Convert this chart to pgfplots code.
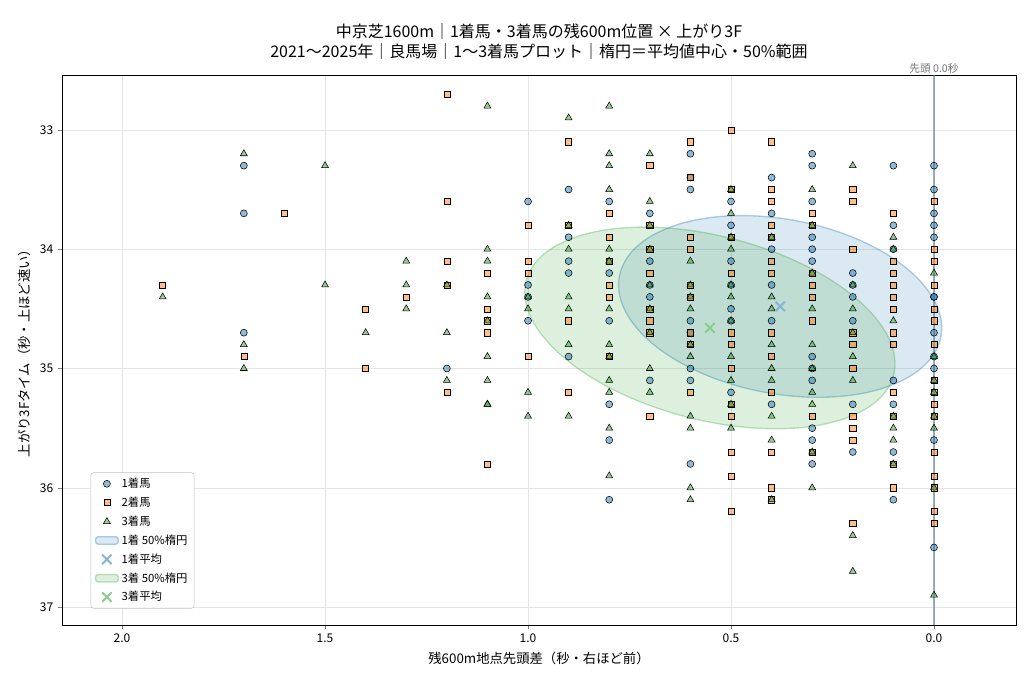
\documentclass[border=0pt]{standalone}
\usepackage{pgfplots}
\pgfplotsset{compat=1.18}
\usepackage{fontspec}
\setmainfont{Noto Sans CJK JP}
\definecolor{cb}{RGB}{31,119,180}
\definecolor{co}{RGB}{255,127,14}
\definecolor{cg}{RGB}{44,160,44}
\begin{document}
\begin{tikzpicture}
\useasboundingbox (0,0) rectangle (768pt,513pt);
\begin{axis}[at={(46.5pt,44.25pt)},anchor=south west,scale only axis,
 width=715.5pt,height=412.5pt,
 x dir=reverse, y dir=reverse,
 xmin=-0.202,xmax=2.148,ymin=32.54,ymax=37.15,
 xtick={0,0.5,1,1.5,2}, ytick={33,34,35,36,37},
 xticklabel style={/pgf/number format/.cd,fixed,fixed zerofill,precision=1},
 /pgf/number format/assume math mode=true,
 tick label style={font=\fontsize{9}{10}\selectfont},
 grid=major, major grid style={gray!20},
 tick align=outside, major tick length=3pt, tick pos=left,
 xlabel={残600m地点先頭差（秒・右ほど前）}, ylabel={上がり3Fタイム（秒・上ほど速い）},
 label style={font=\fontsize{10}{12}\selectfont},
 title={中京芝1600m｜1着馬・3着馬の残600m位置 × 上がり3F\\2021〜2025年｜良馬場｜1〜3着馬プロット｜楕円＝平均値中心・50\%範囲},
 title style={font=\fontsize{12}{15}\selectfont, align=center, yshift=2pt},
 legend pos=south west,
 legend style={font=\fontsize{8.5}{10}\selectfont, draw=gray!50, rounded corners=2pt, cells={anchor=west}, row sep=1.5pt},
 clip=false]
\addplot[only marks, mark=*, mark size=2.6pt, mark options={draw=none, fill=cb, fill opacity=0.5}] coordinates {
(0.9,33.5)(0.9,33.9)(0.9,34.1)(0.9,34.2)(0.9,34.9)
(0.8,33.6)(0.8,34.2)(0.8,34.6)(0.8,35.3)(0.8,35.6)(0.8,36.1)
(0.7,33.7)(0.7,34.1)(0.7,34.3)(0.7,34.4)(0.7,35.1)
(0.6,33.2)(0.6,33.4)(0.6,33.5)(0.6,34.6)(0.6,34.7)(0.6,35.0)(0.6,35.1)(0.6,35.8)
(0.5,33.6)(0.5,33.8)(0.5,34.1)(0.5,34.3)(0.5,34.5)(0.5,34.6)(0.5,35.2)
(0.4,33.4)(0.4,33.7)(0.4,34.0)(0.4,34.3)(0.4,34.6)(0.4,35.3)
(0.3,33.2)(0.3,33.3)(0.3,33.6)(0.3,33.9)(0.3,34.0)(0.3,34.1)(0.3,34.9)(0.3,35.0)(0.3,35.1)(0.3,35.5)(0.3,35.6)(0.3,35.8)
(0.2,34.2)(0.2,34.3)(0.2,34.4)(0.2,34.6)(0.2,35.3)(0.2,35.7)
(0.1,33.3)(0.1,33.8)(0.1,34.0)(0.1,35.1)(0.1,35.3)(0.1,35.7)(0.1,36.1)
(0,33.3)(0,33.5)(0,33.7)(0,33.8)(0,33.9)(0,34.4)(0,34.4)(0,34.7)(0,34.9)(0,35.0)(0,35.6)(0,36.5)
(1.7,33.3)(1.7,33.7)(1.7,34.7)(1.2,35.0)(1.0,33.6)(1.0,34.3)(1.0,34.4)(1.0,34.6)
};
\addlegendentry{1着馬}
\addplot[only marks, mark=square*, mark size=2.3pt, mark options={draw=none, fill=co, fill opacity=0.5}] coordinates {
(0.9,33.1)(0.9,33.8)(0.9,34.6)(0.9,35.2)
(0.8,33.7)(0.8,33.9)(0.8,34.1)(0.8,34.3)(0.8,34.4)(0.8,34.9)
(0.7,33.3)(0.7,33.8)(0.7,34.0)(0.7,34.2)(0.7,34.5)(0.7,34.6)(0.7,34.7)(0.7,35.4)
(0.6,33.1)(0.6,33.4)(0.6,33.9)(0.6,34.0)(0.6,34.3)(0.6,34.4)(0.6,34.7)(0.6,34.8)(0.6,35.2)
(0.5,33.0)(0.5,33.5)(0.5,33.9)(0.5,34.2)(0.5,34.7)(0.5,34.8)(0.5,35.0)(0.5,35.3)(0.5,35.4)(0.5,35.7)(0.5,35.9)(0.5,36.2)
(0.4,33.1)(0.4,33.5)(0.4,33.6)(0.4,33.8)(0.4,33.9)(0.4,34.1)(0.4,34.2)(0.4,34.7)(0.4,34.9)(0.4,35.2)(0.4,35.7)(0.4,36.0)(0.4,36.1)
(0.3,33.7)(0.3,33.8)(0.3,34.2)(0.3,34.3)(0.3,34.4)(0.3,34.6)(0.3,35.4)(0.3,35.7)
(0.2,33.5)(0.2,33.6)(0.2,34.0)(0.2,34.7)(0.2,34.8)(0.2,35.0)(0.2,35.4)(0.2,35.5)(0.2,35.6)(0.2,36.3)
(0.1,33.7)(0.1,34.1)(0.1,34.2)(0.1,34.3)(0.1,34.4)(0.1,34.5)(0.1,34.7)(0.1,34.8)(0.1,35.2)(0.1,35.4)(0.1,35.8)(0.1,36.0)
(0,33.6)(0,34.0)(0,34.1)(0,34.3)(0,34.5)(0,34.6)(0,34.8)(0,35.1)(0,35.2)(0,35.3)(0,35.4)(0,35.7)(0,35.9)(0,36.0)(0,36.2)(0,36.3)
(1.9,34.3)(1.7,34.9)(1.6,33.7)(1.4,34.5)(1.4,35.0)(1.3,34.4)
(1.2,32.7)(1.2,33.6)(1.2,34.1)(1.2,34.3)(1.2,35.2)
(1.1,34.2)(1.1,34.5)(1.1,34.6)(1.1,34.7)(1.1,35.8)
(1.0,33.8)(1.0,34.1)(1.0,34.2)(1.0,34.9)
};
\addlegendentry{2着馬}
\addplot[only marks, mark=triangle*, mark size=3pt, mark options={draw=none, fill=cg, fill opacity=0.5}] coordinates {
(0.9,32.9)(0.9,33.8)(0.9,34.0)(0.9,34.4)(0.9,34.5)(0.9,34.8)(0.9,35.4)
(0.8,32.8)(0.8,33.2)(0.8,33.3)(0.8,33.5)(0.8,34.0)(0.8,34.1)(0.8,34.5)(0.8,34.8)(0.8,34.9)(0.8,35.1)(0.8,35.2)(0.8,35.5)(0.8,35.9)
(0.7,33.2)(0.7,33.6)(0.7,33.8)(0.7,34.0)(0.7,34.3)(0.7,34.5)(0.7,34.7)(0.7,35.0)(0.7,35.2)
(0.6,34.1)(0.6,34.3)(0.6,34.4)(0.6,34.5)(0.6,34.8)(0.6,34.9)(0.6,35.4)(0.6,35.5)(0.6,36.0)(0.6,36.1)
(0.5,33.5)(0.5,33.7)(0.5,33.9)(0.5,34.0)(0.5,34.3)(0.5,34.4)(0.5,34.6)(0.5,34.9)(0.5,35.1)(0.5,35.3)(0.5,35.5)
(0.4,33.9)(0.4,34.4)(0.4,34.5)(0.4,34.8)(0.4,35.0)(0.4,35.1)(0.4,35.4)(0.4,35.6)(0.4,36.1)
(0.3,33.5)(0.3,33.8)(0.3,34.2)(0.3,34.5)(0.3,34.8)(0.3,35.0)(0.3,35.2)(0.3,35.3)(0.3,35.7)(0.3,36.0)
(0.2,33.3)(0.2,34.3)(0.2,34.5)(0.2,34.7)(0.2,34.9)(0.2,35.1)(0.2,36.4)(0.2,36.7)
(0.1,33.9)(0.1,34.0)(0.1,34.6)(0.1,35.4)(0.1,35.5)(0.1,35.6)(0.1,35.8)
(0,34.2)(0,34.9)(0,35.1)(0,35.2)(0,35.4)(0,35.5)(0,36.0)(0,36.9)
(1.9,34.4)(1.7,33.2)(1.7,34.8)(1.7,35.0)(1.5,33.3)(1.5,34.3)(1.4,34.7)
(1.3,34.1)(1.3,34.3)(1.3,34.5)(1.2,34.3)(1.2,34.7)(1.2,35.1)
(1.1,32.8)(1.1,34.0)(1.1,34.1)(1.1,34.4)(1.1,34.6)(1.1,34.9)(1.1,35.1)(1.1,35.3)(1.1,35.3)
(1.0,34.4)(1.0,34.5)(1.0,35.2)(1.0,35.4)
};
\addlegendentry{3着馬}
\addplot[draw=cb, draw opacity=0.35, fill=cb, fill opacity=0.16, line width=1pt, domain=0:360, samples=120, smooth, area legend]
 ({0.379+0.398*cos(x)},{34.48-0.18*cos(x)+0.74*sin(x)}) -- cycle;
\addlegendentry{1着 50\%楕円}
\addplot[only marks, mark=x, mark size=5pt, line width=1.5pt, cb!55] coordinates {(0.379,34.48)};
\addlegendentry{1着平均}
\addplot[draw=cg, draw opacity=0.3, fill=cg, fill opacity=0.16, line width=1pt, domain=0:360, samples=120, smooth, area legend]
 ({0.552+0.456*cos(x)},{34.66-0.30*cos(x)+0.79*sin(x)}) -- cycle;
\addlegendentry{3着 50\%楕円}
\addplot[only marks, mark=x, mark size=5pt, line width=1.5pt, cg!55] coordinates {(0.552,34.66)};
\addlegendentry{3着平均}
\addplot[cb!40!gray, line width=1pt, opacity=0.6, forget plot] coordinates {(0,32.54)(0,37.15)};
\node[anchor=south, font=\fontsize{8}{9}\selectfont, text=gray!90!black, inner sep=1pt] at (axis cs:0,32.54) {先頭 0.0秒};
\end{axis}
\end{tikzpicture}
\end{document}
